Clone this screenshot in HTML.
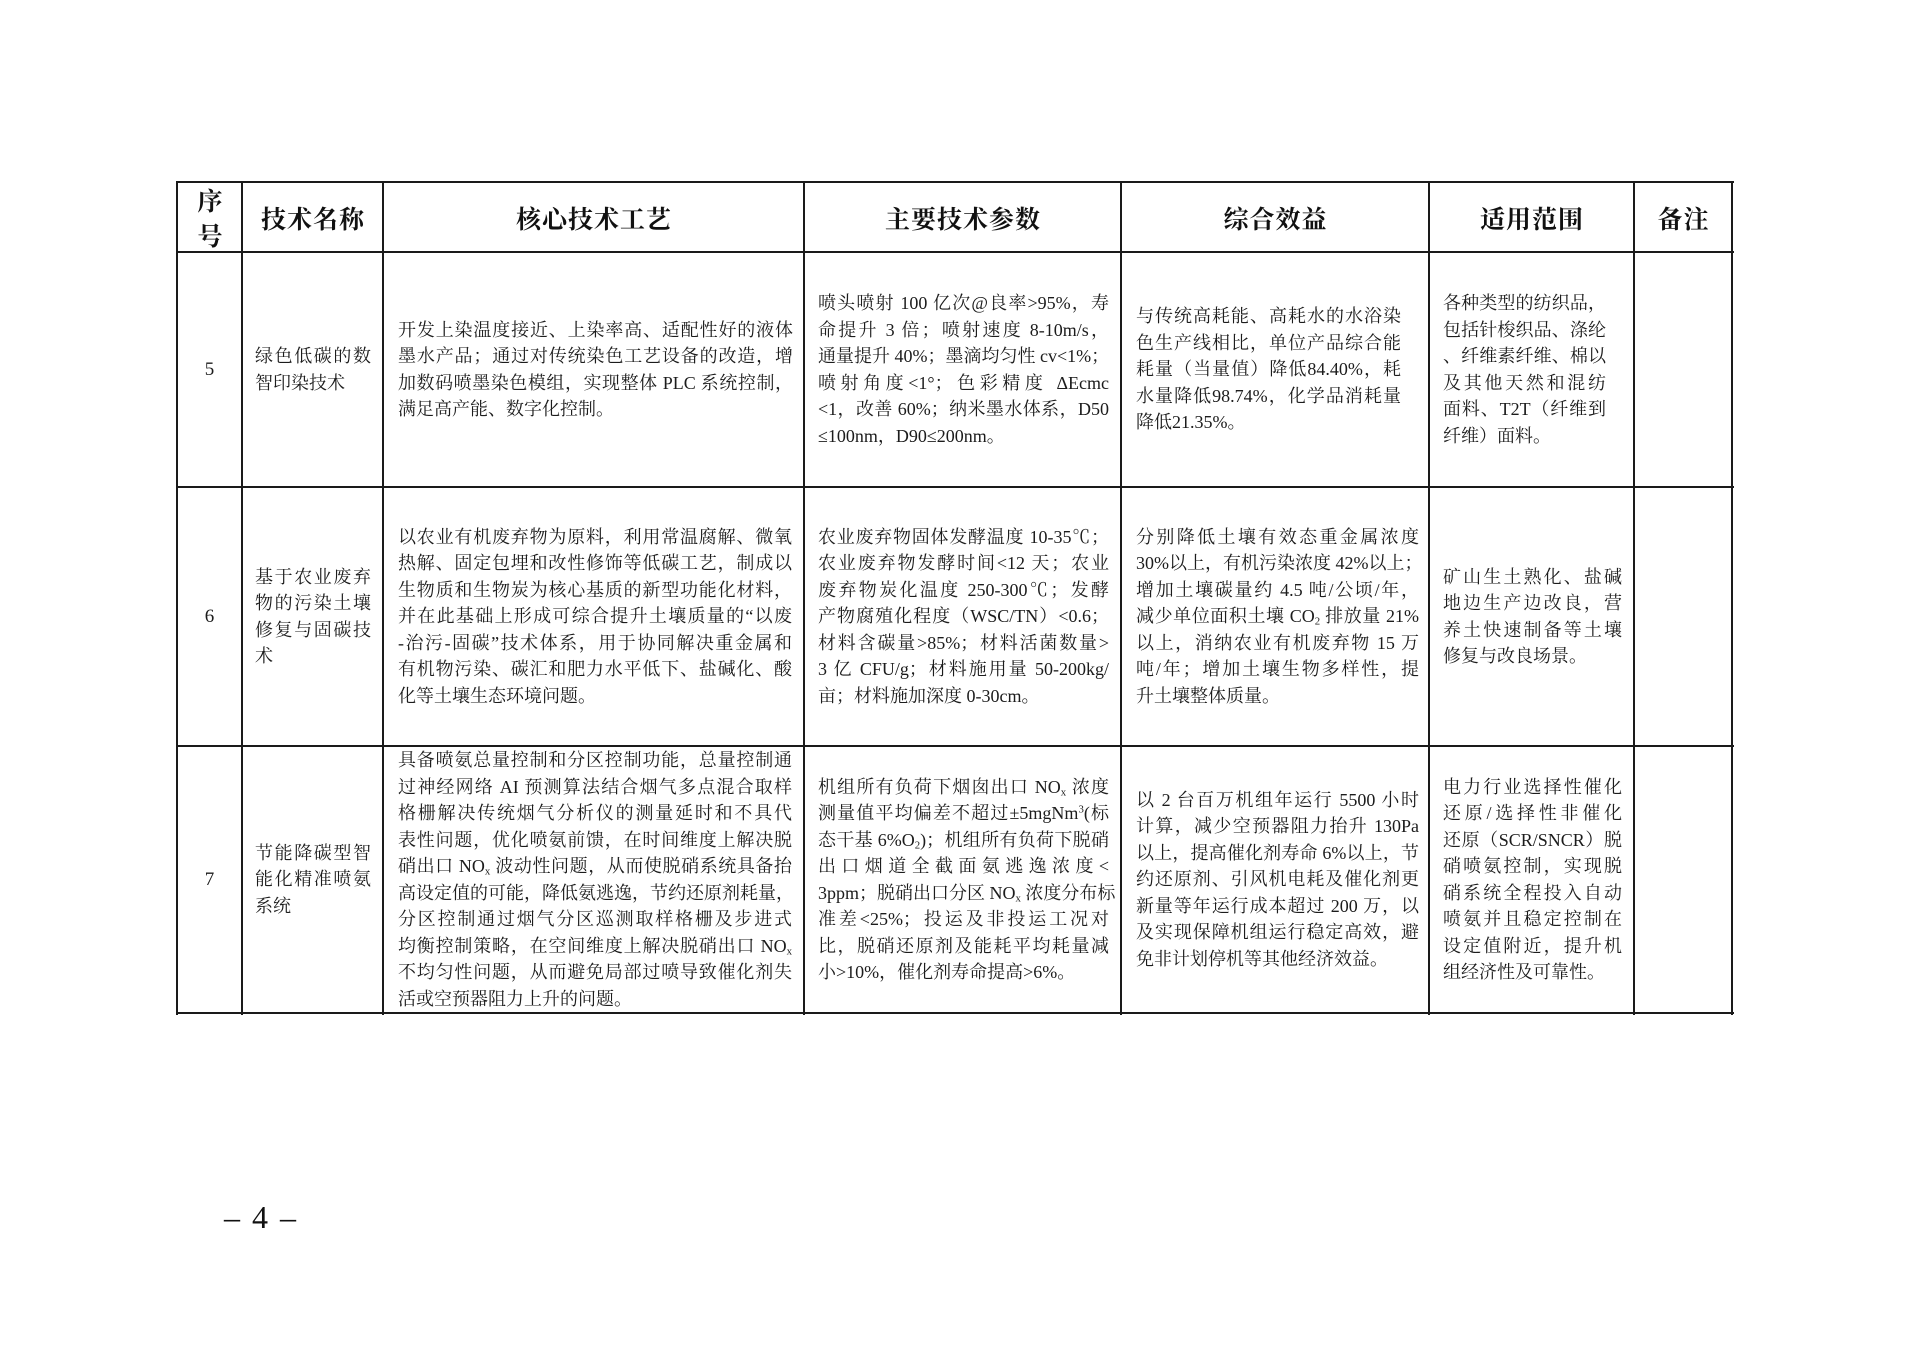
<!DOCTYPE html>
<html lang="zh">
<head>
<meta charset="utf-8">
<style>
  html,body{margin:0;padding:0;background:#fff;}
  body{width:1920px;height:1357px;position:relative;overflow:hidden;
       font-family:"Liberation Serif","Noto Serif CJK SC",serif;color:#1c1c1c;}
  .hl{position:absolute;left:176px;width:1558px;height:2px;background:#1a1a1a;}
  .vl{position:absolute;top:181px;height:834px;width:2px;background:#1a1a1a;}
  .hd{position:absolute;top:183px;height:69px;display:flex;align-items:center;justify-content:center;
      font-family:"Noto Serif CJK SC","Liberation Serif",serif;font-weight:700;font-size:25px;
      letter-spacing:1px;color:#111;}
  .c{position:absolute;display:flex;flex-direction:column;justify-content:center;font-size:18px;}
  .ln{white-space:nowrap;height:26.5px;line-height:26.5px;text-align:justify;text-align-last:justify;}
  .ln.l{text-align:left;text-align-last:left;}
  .num{position:absolute;left:177px;width:65px;display:flex;align-items:center;justify-content:center;
       font-size:19px;}
  .sb{font-size:0.6em;vertical-align:-0.25em;line-height:0;}
  .sp{font-size:0.6em;vertical-align:0.6em;line-height:0;}
  .pg{position:absolute;left:224px;top:1197px;font-size:32px;line-height:40px;
      font-family:"Liberation Serif",serif;word-spacing:4px;color:#111;}
</style>
</head>
<body>

<!-- horizontal lines -->
<div class="hl" style="top:181px"></div>
<div class="hl" style="top:251px"></div>
<div class="hl" style="top:486px"></div>
<div class="hl" style="top:745px"></div>
<div class="hl" style="top:1012px"></div>
<!-- vertical lines -->
<div class="vl" style="left:176px"></div>
<div class="vl" style="left:241px"></div>
<div class="vl" style="left:382px"></div>
<div class="vl" style="left:803px"></div>
<div class="vl" style="left:1120px"></div>
<div class="vl" style="left:1428px"></div>
<div class="vl" style="left:1633px"></div>
<div class="vl" style="left:1731px"></div>

<!-- header -->
<div class="hd" style="left:178px;width:64px;flex-direction:column;line-height:35px;letter-spacing:0;">
  <div>序</div><div>号</div>
</div>
<div class="hd" style="left:243px;width:140px;">技术名称</div>
<div class="hd" style="left:384px;width:420px;">核心技术工艺</div>
<div class="hd" style="left:805px;width:316px;">主要技术参数</div>
<div class="hd" style="left:1122px;width:307px;">综合效益</div>
<div class="hd" style="left:1430px;width:204px;">适用范围</div>
<div class="hd" style="left:1635px;width:97px;">备注</div>

<!-- ROW 5 : 253 - 486 -->
<div class="num" style="top:253px;height:233px;">5</div>
<div class="c" style="top:253px;height:233px;left:255px;width:116px;">
  <div class="ln">绿色低碳的数</div>
  <div class="ln l">智印染技术</div>
</div>
<div class="c" style="top:253px;height:233px;left:398px;width:395px;">
  <div class="ln">开发上染温度接近、上染率高、适配性好的液体</div>
  <div class="ln">墨水产品；通过对传统染色工艺设备的改造，增</div>
  <div class="ln">加数码喷墨染色模组，实现整体 PLC 系统控制，</div>
  <div class="ln l">满足高产能、数字化控制。</div>
</div>
<div class="c" style="top:253px;height:233px;left:818px;width:291px;">
  <div class="ln">喷头喷射 100 亿次@良率&gt;95%，寿</div>
  <div class="ln">命提升 3 倍；喷射速度 8-10m/s，</div>
  <div class="ln">通量提升 40%；墨滴均匀性 cv&lt;1%；</div>
  <div class="ln">喷射角度&lt;1°；色彩精度 ΔEcmc</div>
  <div class="ln">&lt;1，改善 60%；纳米墨水体系，D50</div>
  <div class="ln l">≤100nm，D90≤200nm。</div>
</div>
<div class="c" style="top:253px;height:233px;left:1136px;width:265px;">
  <div class="ln">与传统高耗能、高耗水的水浴染</div>
  <div class="ln">色生产线相比，单位产品综合能</div>
  <div class="ln">耗量（当量值）降低84.40%，耗</div>
  <div class="ln">水量降低98.74%，化学品消耗量</div>
  <div class="ln l">降低21.35%。</div>
</div>
<div class="c" style="top:253px;height:233px;left:1443px;width:163px;">
  <div class="ln">各种类型的纺织品，</div>
  <div class="ln">包括针梭织品、涤纶</div>
  <div class="ln">、纤维素纤维、棉以</div>
  <div class="ln">及其他天然和混纺</div>
  <div class="ln">面料、T2T（纤维到</div>
  <div class="ln l">纤维）面料。</div>
</div>

<!-- ROW 6 : 488 - 745 -->
<div class="num" style="top:488px;height:257px;">6</div>
<div class="c" style="top:488px;height:257px;left:255px;width:116px;">
  <div class="ln">基于农业废弃</div>
  <div class="ln">物的污染土壤</div>
  <div class="ln">修复与固碳技</div>
  <div class="ln l">术</div>
</div>
<div class="c" style="top:488px;height:257px;left:398px;width:394px;">
  <div class="ln">以农业有机废弃物为原料，利用常温腐解、微氧</div>
  <div class="ln">热解、固定包埋和改性修饰等低碳工艺，制成以</div>
  <div class="ln">生物质和生物炭为核心基质的新型功能化材料，</div>
  <div class="ln">并在此基础上形成可综合提升土壤质量的“以废</div>
  <div class="ln">-治污-固碳”技术体系，用于协同解决重金属和</div>
  <div class="ln">有机物污染、碳汇和肥力水平低下、盐碱化、酸</div>
  <div class="ln l">化等土壤生态环境问题。</div>
</div>
<div class="c" style="top:488px;height:257px;left:818px;width:291px;">
  <div class="ln">农业废弃物固体发酵温度 10-35℃；</div>
  <div class="ln">农业废弃物发酵时间&lt;12 天；农业</div>
  <div class="ln">废弃物炭化温度 250-300℃；发酵</div>
  <div class="ln">产物腐殖化程度（WSC/TN）&lt;0.6；</div>
  <div class="ln">材料含碳量&gt;85%；材料活菌数量&gt;</div>
  <div class="ln">3 亿 CFU/g；材料施用量 50-200kg/</div>
  <div class="ln l">亩；材料施加深度 0-30cm。</div>
</div>
<div class="c" style="top:488px;height:257px;left:1136px;width:283px;">
  <div class="ln">分别降低土壤有效态重金属浓度</div>
  <div class="ln">30%以上，有机污染浓度 42%以上；</div>
  <div class="ln">增加土壤碳量约 4.5 吨/公顷/年，</div>
  <div class="ln">减少单位面积土壤 CO<span class="sb">2</span> 排放量 21%</div>
  <div class="ln">以上，消纳农业有机废弃物 15 万</div>
  <div class="ln">吨/年；增加土壤生物多样性，提</div>
  <div class="ln l">升土壤整体质量。</div>
</div>
<div class="c" style="top:488px;height:257px;left:1443px;width:179px;">
  <div class="ln">矿山生土熟化、盐碱</div>
  <div class="ln">地边生产边改良，营</div>
  <div class="ln">养土快速制备等土壤</div>
  <div class="ln l">修复与改良场景。</div>
</div>

<!-- ROW 7 : 747 - 1012 -->
<div class="num" style="top:747px;height:265px;">7</div>
<div class="c" style="top:747px;height:265px;left:255px;width:116px;">
  <div class="ln">节能降碳型智</div>
  <div class="ln">能化精准喷氨</div>
  <div class="ln l">系统</div>
</div>
<div class="c" style="top:747px;height:265px;left:398px;width:394px;">
  <div class="ln">具备喷氨总量控制和分区控制功能，总量控制通</div>
  <div class="ln">过神经网络 AI 预测算法结合烟气多点混合取样</div>
  <div class="ln">格栅解决传统烟气分析仪的测量延时和不具代</div>
  <div class="ln">表性问题，优化喷氨前馈，在时间维度上解决脱</div>
  <div class="ln">硝出口 NO<span class="sb">x</span> 波动性问题，从而使脱硝系统具备抬</div>
  <div class="ln">高设定值的可能，降低氨逃逸，节约还原剂耗量，</div>
  <div class="ln">分区控制通过烟气分区巡测取样格栅及步进式</div>
  <div class="ln">均衡控制策略，在空间维度上解决脱硝出口 NO<span class="sb">x</span></div>
  <div class="ln">不均匀性问题，从而避免局部过喷导致催化剂失</div>
  <div class="ln l">活或空预器阻力上升的问题。</div>
</div>
<div class="c" style="top:747px;height:265px;left:818px;width:291px;">
  <div class="ln">机组所有负荷下烟囱出口 NO<span class="sb">x</span> 浓度</div>
  <div class="ln">测量值平均偏差不超过±5mgNm<span class="sp">3</span>(标</div>
  <div class="ln">态干基 6%O<span class="sb">2</span>)；机组所有负荷下脱硝</div>
  <div class="ln">出口烟道全截面氨逃逸浓度&lt;</div>
  <div class="ln">3ppm；脱硝出口分区 NO<span class="sb">x</span> 浓度分布标</div>
  <div class="ln">准差&lt;25%；投运及非投运工况对</div>
  <div class="ln">比，脱硝还原剂及能耗平均耗量减</div>
  <div class="ln l">小&gt;10%，催化剂寿命提高&gt;6%。</div>
</div>
<div class="c" style="top:747px;height:265px;left:1136px;width:283px;">
  <div class="ln">以 2 台百万机组年运行 5500 小时</div>
  <div class="ln">计算，减少空预器阻力抬升 130Pa</div>
  <div class="ln">以上，提高催化剂寿命 6%以上，节</div>
  <div class="ln">约还原剂、引风机电耗及催化剂更</div>
  <div class="ln">新量等年运行成本超过 200 万，以</div>
  <div class="ln">及实现保障机组运行稳定高效，避</div>
  <div class="ln l">免非计划停机等其他经济效益。</div>
</div>
<div class="c" style="top:747px;height:265px;left:1443px;width:179px;">
  <div class="ln">电力行业选择性催化</div>
  <div class="ln">还原/选择性非催化</div>
  <div class="ln">还原（SCR/SNCR）脱</div>
  <div class="ln">硝喷氨控制，实现脱</div>
  <div class="ln">硝系统全程投入自动</div>
  <div class="ln">喷氨并且稳定控制在</div>
  <div class="ln">设定值附近，提升机</div>
  <div class="ln l">组经济性及可靠性。</div>
</div>

<!-- page number -->
<div class="pg">– 4 –</div>

</body>
</html>
